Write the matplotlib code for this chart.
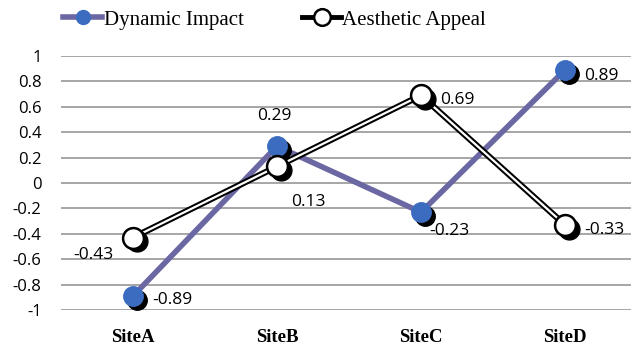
import matplotlib
matplotlib.use("Agg")
import matplotlib.pyplot as plt
import matplotlib.transforms as mtransforms
from matplotlib.lines import Line2D

sites = ["SiteA", "SiteB", "SiteC", "SiteD"]
dynamic_impact = [-0.89, 0.29, -0.23, 0.89]
aesthetic_appeal = [-0.43, 0.13, 0.69, -0.33]
y_ticks = [1, 0.8, 0.6, 0.4, 0.2, 0, -0.2, -0.4, -0.6, -0.8, -1]

# label offsets in points (dx, dy, ha, va)
di_label_pos = [(14, -3, "left", "center"), (-2, 16, "center", "bottom"),
                (6, -8, "left", "top"), (14, -4, "left", "center")]
aa_label_pos = [(-14, -7, "right", "top"), (10, -20, "left", "top"),
                (14, -3, "left", "center"), (14, -4, "left", "center")]

fig = plt.figure(figsize=(6.31, 3.6), dpi=100)
ax = fig.add_axes([61 / 631, 50 / 360, 570 / 631, 254 / 360])
x = list(range(len(sites)))

ax.set_xlim(-0.5, -0.5 + 570 / 144)
ax.set_ylim(-1, 1)
for s in ax.spines.values():
    s.set_visible(False)
ax.set_yticks(y_ticks)
ax.set_yticklabels([f"{t:g}" for t in y_ticks], fontsize=12, family="Open Sans")
ax.tick_params(axis="both", length=0)
ax.tick_params(axis="y", pad=14)
ax.set_xticks(x)
ax.set_xticklabels(sites, fontsize=13.5, fontweight="bold", family="Liberation Serif")
ax.tick_params(axis="x", pad=14)
ax.yaxis.grid(True, color="#a6a6a6", linewidth=1.4)
ax.set_axisbelow(True)

shadow = mtransforms.offset_copy(ax.transData, fig=fig, x=2.6, y=-2.6, units="points")

# Dynamic Impact: thick slate line, blue dots
ax.plot(x, dynamic_impact, color="#6b67a3", linewidth=4, zorder=3, clip_on=False)
ax.plot(x, dynamic_impact, "o", color="black", markersize=14, transform=shadow,
        zorder=4, clip_on=False)
ax.plot(x, dynamic_impact, "o", color="#3b6cc0", markeredgecolor="#3b6cc0",
        markersize=14, zorder=5, clip_on=False)

# Aesthetic Appeal: double (outlined white) line, open circles
ax.plot(x, aesthetic_appeal, color="black", linewidth=4.5, zorder=6, clip_on=False)
ax.plot(x, aesthetic_appeal, color="white", linewidth=1.6, zorder=7, clip_on=False)
ax.plot(x, aesthetic_appeal, "o", color="black", markersize=15, transform=shadow,
        zorder=8, clip_on=False)
ax.plot(x, aesthetic_appeal, "o", markerfacecolor="white", markeredgecolor="black",
        markeredgewidth=1.8, markersize=15, zorder=9, clip_on=False)

for xi, v, (dx, dy, ha, va) in zip(x, dynamic_impact, di_label_pos):
    ax.annotate(f"{v:g}", (xi, v), xytext=(dx, dy), textcoords="offset points",
                ha=ha, va=va, fontsize=12.5, family="Open Sans", zorder=10)
for xi, v, (dx, dy, ha, va) in zip(x, aesthetic_appeal, aa_label_pos):
    ax.annotate(f"{v:g}", (xi, v), xytext=(dx, dy), textcoords="offset points",
                ha=ha, va=va, fontsize=12.5, family="Open Sans", zorder=10)

handles = [
    Line2D([], [], color="#6b67a3", linewidth=4, marker="o", markersize=10,
           markerfacecolor="#3b6cc0", markeredgecolor="#3b6cc0"),
    Line2D([], [], color="black", linewidth=3.5, marker="o", markersize=12,
           markerfacecolor="white", markeredgecolor="black", markeredgewidth=1.8),
]
fig.legend(handles, ["Dynamic Impact", "Aesthetic Appeal"], loc="center",
           bbox_to_anchor=(0.435, 0.945), ncol=2, frameon=False, handlelength=1.9,
           handletextpad=0.05, columnspacing=2.8,
           prop={"family": "Liberation Serif", "size": 15})

fig.savefig("out.png", dpi=100)
